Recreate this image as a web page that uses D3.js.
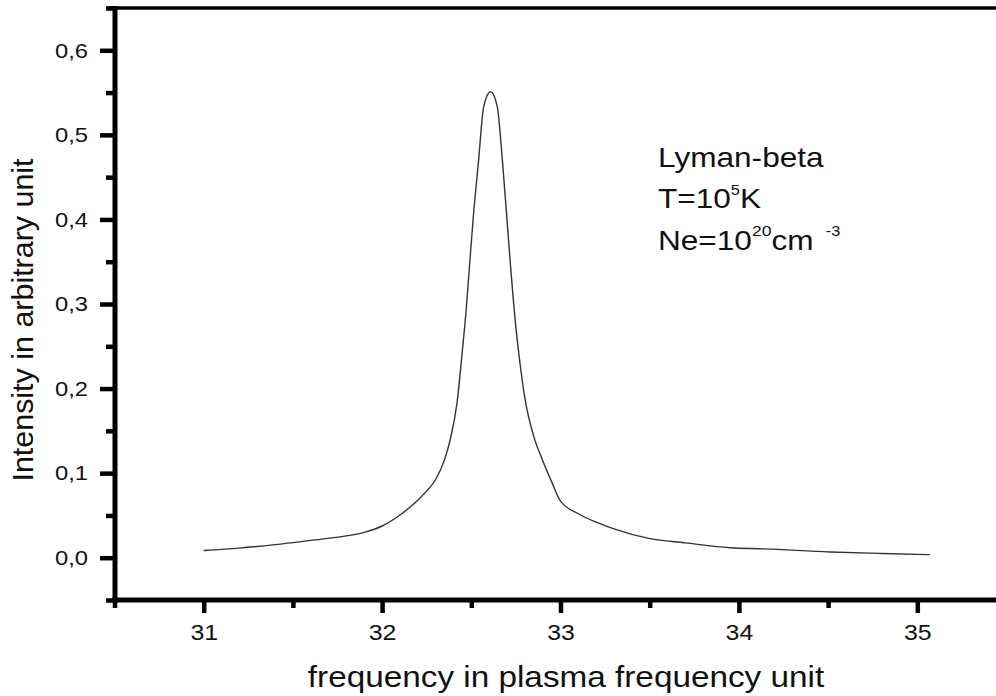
<!DOCTYPE html>
<html>
<head>
<meta charset="utf-8">
<script src="https://cdn.jsdelivr.net/npm/d3@7"></script>
<style>
  body { margin: 0; background: #fff; }
  svg { display: block; font-family: "Liberation Sans", Arial, sans-serif; }
</style>
</head>
<body>
<svg id="svg1" width="996" height="696"></svg>
<script>
var width = 996;
var height = 696;

// frequency (plasma frequency units) and intensity
var freq = [31.0, 31.2, 31.4, 31.6, 31.8, 31.9, 32.0, 32.1, 32.2, 32.25, 32.3,
            32.35, 32.38, 32.42, 32.45, 32.47, 32.49, 32.51, 32.54, 32.57, 32.608,
            32.645, 32.675, 32.697, 32.72, 32.75, 32.77, 32.80, 32.85, 32.9, 32.95,
            33.0, 33.1, 33.2, 33.3, 33.5, 33.7, 33.95, 34.14, 34.51, 34.8, 35.07];
var intensity = [0.0086, 0.0114, 0.0155, 0.0205, 0.0258, 0.0300, 0.0375, 0.0505, 0.0680, 0.0790, 0.0925,
                 0.1160, 0.1380, 0.1830, 0.2450, 0.2900, 0.3450, 0.4000, 0.4680, 0.5340, 0.5510,
                 0.5340, 0.4680, 0.4080, 0.3450, 0.2720, 0.2350, 0.1890, 0.1435, 0.1150, 0.0900,
                 0.0670, 0.0520, 0.0420, 0.0340, 0.0225, 0.0175, 0.0118, 0.0105, 0.0068, 0.0050, 0.0036];

var xTicks = [31, 32, 33, 34, 35];
var xMinor = [30.5, 31.5, 32.5, 33.5, 34.5, 35.5];
var yTicks = [0.0, 0.1, 0.2, 0.3, 0.4, 0.5, 0.6];
var yMinor = [-0.05, 0.05, 0.15, 0.25, 0.35, 0.45, 0.55, 0.65];

var data = freq.map(function(f, i){ return {x: f, y: intensity[i]}; });

// the picture is a little wider than plain Arial, stretch text horizontally
var stretch = 1.13;

var svg = d3.select('#svg1');

var x = d3.scaleLinear().domain([30.5, 35.5]).range([114.5, 1006.5]);
var y = d3.scaleLinear().domain([-0.05, 0.65]).range([600, 8]);

var fmt = function(d){ return d3.format('.1f')(d).replace('.', ','); };

function styleAxis(g){
    g.attr('font-family', null).attr('font-size', null);
    g.select('.domain').remove();
    g.selectAll('line').attr('stroke', '#000').attr('stroke-width', 4.5);
}

// minor ticks
svg.append('g')
    .attr('transform', 'translate(0,600)')
    .call(d3.axisBottom(x).tickValues(xMinor).tickSize(8).tickFormat(''))
    .call(styleAxis);

svg.append('g')
    .attr('transform', 'translate(115,0)')
    .call(d3.axisLeft(y).tickValues(yMinor).tickSize(9).tickFormat(''))
    .call(styleAxis);

// major ticks
var xAxis = svg.append('g')
    .attr('transform', 'translate(0,600)')
    .call(d3.axisBottom(x).tickValues(xTicks).tickSize(13).tickPadding(11).tickFormat(d3.format('d')))
    .call(styleAxis);
xAxis.selectAll('text')
    .attr('font-size', 22)
    .attr('fill', '#111')
    .attr('transform', 'scale(' + stretch + ',1)');

var yAxis = svg.append('g')
    .attr('transform', 'translate(115,0)')
    .call(d3.axisLeft(y).tickValues(yTicks).tickSize(15).tickPadding(12).tickFormat(fmt))
    .call(styleAxis);
yAxis.selectAll('text')
    .attr('font-size', 21)
    .attr('fill', '#111')
    .attr('x', -27 / stretch)
    .attr('transform', 'scale(' + stretch + ',1)');

// frame lines
svg.append('line').attr('x1', 107).attr('x2', width).attr('y1', 8).attr('y2', 8)
    .attr('stroke', '#000').attr('stroke-width', 3.5);
svg.append('line').attr('x1', 115).attr('x2', 115).attr('y1', 6).attr('y2', 603)
    .attr('stroke', '#000').attr('stroke-width', 5);
svg.append('line').attr('x1', 112).attr('x2', width).attr('y1', 600).attr('y2', 600)
    .attr('stroke', '#000').attr('stroke-width', 5);

// the profile
var line = d3.line()
    .x(function(d){ return x(d.x); })
    .y(function(d){ return y(d.y); })
    .curve(d3.curveMonotoneX);

svg.append('path')
    .datum(data)
    .attr('d', line)
    .attr('fill', 'none')
    .attr('stroke', '#333')
    .attr('stroke-width', 1.4);

// axis titles
svg.append('text')
    .attr('transform', 'translate(566,687) scale(1.11,1)')
    .attr('text-anchor', 'middle')
    .attr('font-size', 30)
    .attr('fill', '#111')
    .text('frequency in plasma frequency unit');

svg.append('text')
    .attr('transform', 'translate(33,320) rotate(-90) scale(1.05,1)')
    .attr('text-anchor', 'middle')
    .attr('font-size', 29)
    .attr('fill', '#111')
    .text('Intensity in arbitrary unit');

// annotation
var note = svg.append('g').attr('font-size', 27).attr('fill', '#111');
var noteScale = ' scale(1.17,1)';

note.append('text').attr('transform', 'translate(658,167)' + noteScale).text('Lyman-beta');

var t2 = note.append('text').attr('transform', 'translate(658,208)' + noteScale);
t2.append('tspan').text('T=10');
t2.append('tspan').attr('font-size', 14).attr('dy', -13).text('5');
t2.append('tspan').attr('dy', 13).text('K');

var t3 = note.append('text').attr('transform', 'translate(658,250)' + noteScale);
t3.append('tspan').text('Ne=10');
t3.append('tspan').attr('font-size', 15).attr('dy', -14).text('20');
t3.append('tspan').attr('dy', 14).text('cm ');
t3.append('tspan').attr('font-size', 14).attr('dy', -14).attr('dx', 3).text('-3');
</script>
</body>
</html>
